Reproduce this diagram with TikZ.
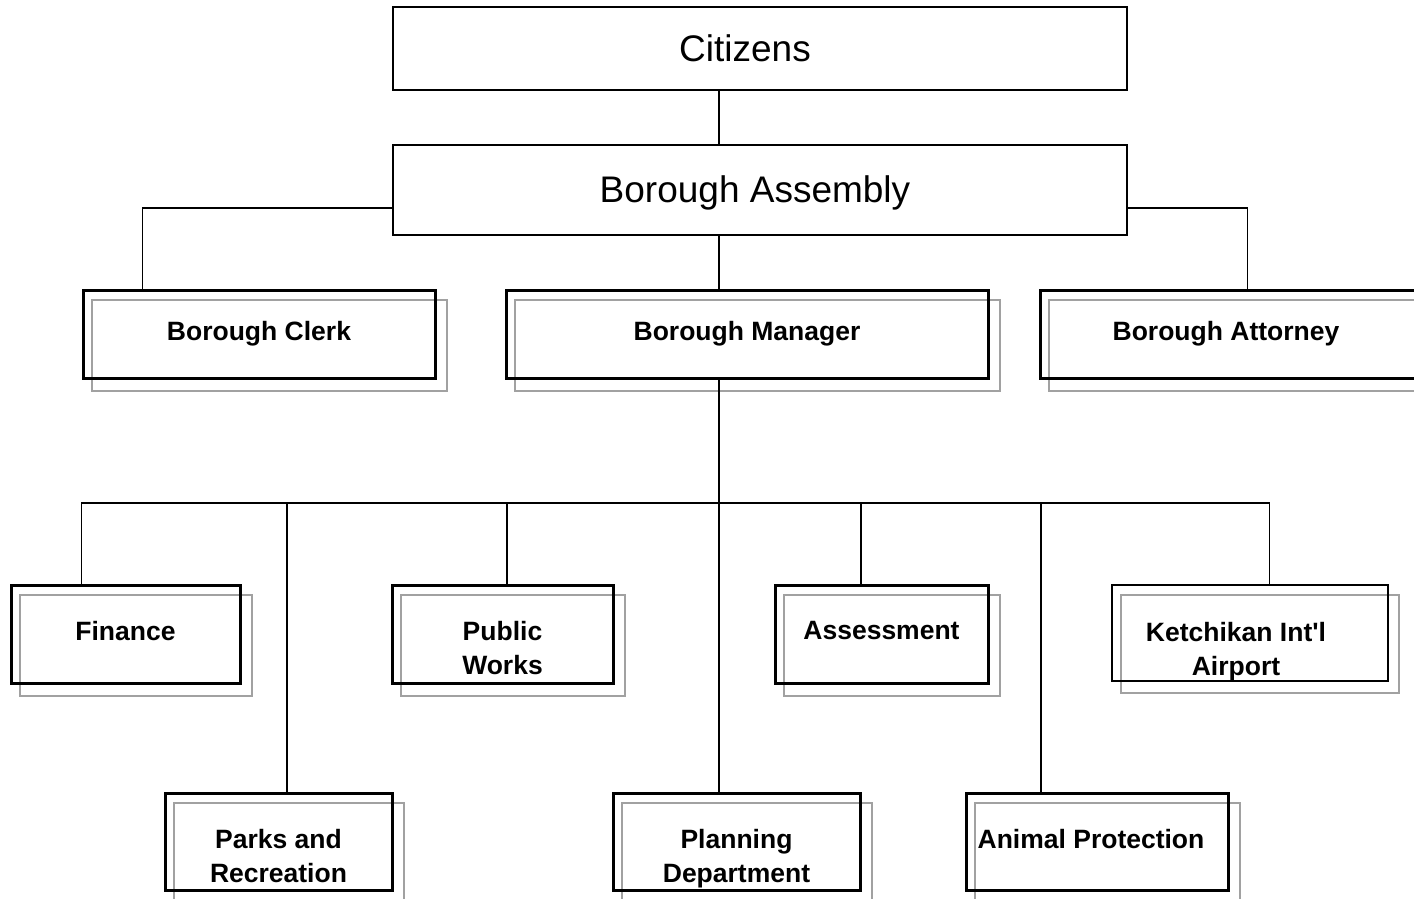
\documentclass[tikz,border=0pt]{standalone}
\usepackage{fontspec}
\setmainfont{Liberation Sans}
\usetikzlibrary{backgrounds}

\tikzset{
	topbox/.style={draw, line width=2.6pt, inner sep=0pt},
	toplabel/.style={inner sep=0pt, font=\fontsize{37}{44}\selectfont},
	officebox/.style={draw, line width=3pt, inner sep=0pt, font=\bfseries\fontsize{26.5}{34}\selectfont},
	deptlabel/.style={anchor=north, yshift=-38pt, align=center, inner sep=0pt, font=\bfseries\fontsize{26.5}{34}\selectfont},
	link/.style={line width=1.8pt},
	greyframe/.style={draw=black!37, line width=2pt}
}

\begin{document}
\begin{tikzpicture}[x=1pt,y=-1pt]
		\useasboundingbox (0,0) rectangle (1414,899);

		% top of the chart
		\node[topbox, minimum width=734pt, minimum height=83pt, label={[toplabel, xshift=-15pt]center:Citizens}] (citizens) at (760,48.5) {};
		\node[topbox, minimum width=734pt, minimum height=90pt, label={[toplabel, xshift=-5pt, yshift=-3pt]center:Borough Assembly}] (assembly) at (760,190) {};

		% offices under the assembly
		\node[officebox, minimum width=352pt, minimum height=88pt] (clerk) at (259,334) {Borough Clerk};
		\node[officebox, minimum width=482pt, minimum height=88pt] (manager) at (747,334) {Borough Manager};
		\node[officebox, minimum width=384pt, minimum height=88pt, label={[officebox, draw=none, xshift=-6pt]center:Borough Attorney}] (attorney) at (1232,334) {};

		\coordinate (spine) at (719,503);

		% departments
		\node[officebox, minimum width=229pt, minimum height=98pt, label={[deptlabel]north:Finance}] (finance) at (125.5,634) {};
		\node[officebox, minimum width=221pt, minimum height=98pt, label={[deptlabel]north:Public\\Works}] (works) at (502.5,634) {};
		\node[officebox, minimum width=213pt, minimum height=98pt, label={[deptlabel]north:Assessment}] (assess) at (881.5,634) {};
		\node[officebox, line width=1.2pt, minimum width=276pt, minimum height=96pt, label={[deptlabel, xshift=-14pt]north:Ketchikan Int\textquotesingle l\\Airport}] (airport) at (1250,633) {};

		\node[officebox, minimum width=227pt, minimum height=97pt, label={[deptlabel]north:Parks and\\Recreation}] (parks) at (278.5,841.5) {};
		\node[officebox, minimum width=247pt, minimum height=97pt, label={[deptlabel]north:Planning\\Department}] (planning) at (736.5,841.5) {};
		\node[officebox, minimum width=262pt, minimum height=97pt, label={[deptlabel, xshift=-6pt]north:Animal Protection}] (animal) at (1097,841.5) {};

		% offset frames behind the boxes
		\begin{scope}[on background layer]
			\foreach \n in {clerk,manager,attorney,finance,works,assess,airport,parks,planning,animal}
				\draw[greyframe] ([shift={(10,11)}]\n.north west) rectangle ([shift={(10,11)}]\n.south east);
		\end{scope}

		% connectors
		\draw[link] (citizens.south -| spine) -- (assembly.north -| spine);
		\draw[link] (assembly.south -| spine) -- (manager.north -| spine);
		\draw[link] ([yshift=-18pt]assembly.west) -| ([xshift=61pt]clerk.north west);
		\draw[link] ([yshift=-18pt]assembly.east) -| ([xshift=209pt]attorney.north west);
		\draw[link] (manager.south -| spine) -- (spine);
		\draw[link] ([xshift=72pt]finance.north west) |- (spine) -| ([xshift=158pt]airport.north west);
		\draw[link] ([xshift=4.5pt]works.north) |- (spine);
		\draw[link] ([xshift=-20.5pt]assess.north) |- (spine);
		\draw[link] ([xshift=8.5pt]parks.north) |- (spine);
		\draw[link] (spine) -- (planning.north -| spine);
		\draw[link] ([xshift=-56pt]animal.north) |- (spine);
	\end{tikzpicture}
\end{document}
